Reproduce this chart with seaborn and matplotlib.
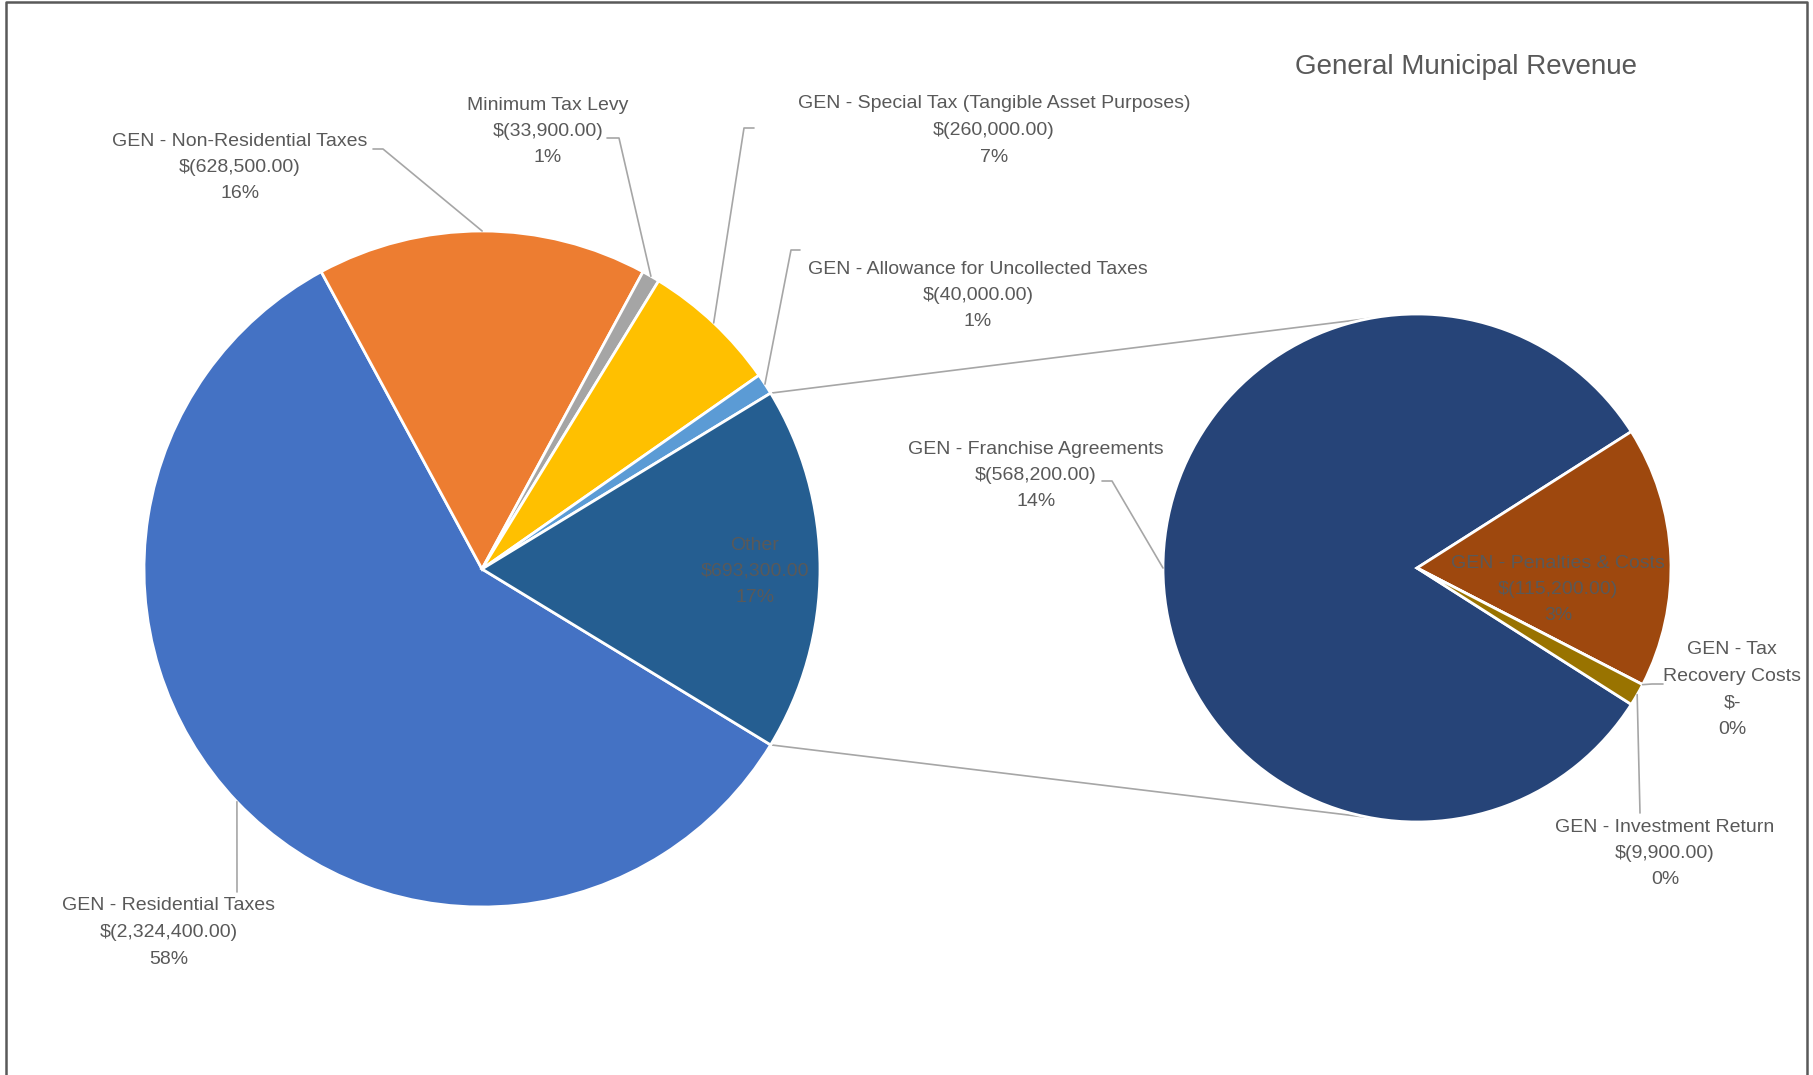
import numpy as np
import matplotlib
matplotlib.use("Agg")
import matplotlib.pyplot as plt
import seaborn as sns
from matplotlib import font_manager as fm

# ---- data -------------------------------------------------------------
title = "General Municipal Revenue"

main_labels = ["GEN - Residential Taxes", "GEN - Non-Residential Taxes", "Minimum Tax Levy",
               "GEN - Special Tax (Tangible Asset Purposes)",
               "GEN - Allowance for Uncollected Taxes", "Other"]
main_values = [2324400, 628500, 33900, 260000, 40000, 693300]
main_colors = ["#4472C4", "#ED7D31", "#A5A5A5", "#FFC000", "#5B9BD5", "#255E91"]

# breakdown of the "Other" slice
sub_labels = ["GEN - Franchise Agreements", "GEN - Penalties & Costs",
              "GEN - Tax\nRecovery Costs", "GEN - Investment Return"]
sub_values = [568200, 115200, 0, 9900]
sub_colors = ["#264478", "#9E480E", "#636363", "#997300"]

# ---- style ------------------------------------------------------------
sns.set_theme(style="white")
names = {f.name for f in fm.fontManager.ttflist}
base = "Liberation Sans Narrow" if "Liberation Sans Narrow" in names else "Liberation Sans"
plt.rcParams["font.family"] = [base, "DejaVu Sans"]

TEXT = "#595959"
LEADER = "#A6A6A6"
W, H = 1813, 1075

fig = plt.figure(figsize=(W / 100, H / 100), dpi=100)
ax = fig.add_axes([0, 0, 1, 1])


def Y(y):
    return H - y


total = float(sum(main_values))


def money(v, paren=True):
    if v == 0:
        return "$-"
    s = f"{v:,.2f}"
    return f"$({s})" if paren else f"${s}"


def pct(v):
    return f"{round(100 * v / total):.0f}%"


# ---- pies -------------------------------------------------------------
c1, r1 = (482, Y(569)), 338
c2, r2 = (1417, Y(568)), 254
wp = dict(edgecolor="white", linewidth=2.0)

other_span = 360.0 * main_values[-1] / total
w1, _ = ax.pie(main_values, colors=main_colors, startangle=-other_span / 2,
               counterclock=False, center=c1, radius=r1, wedgeprops=wp, frame=True)

sub_total = float(sum(sub_values))
w2, _ = ax.pie(sub_values, colors=sub_colors,
               startangle=180 + 180 * sub_values[0] / sub_total,
               counterclock=False, center=c2, radius=r2, wedgeprops=wp, frame=True)


def edge_point(w, center, r, frac=1.0):
    a = np.deg2rad((w.theta1 + w.theta2) / 2)
    return center[0] + frac * r * np.cos(a), center[1] + frac * r * np.sin(a)


# connector lines between the "Other" slice and the secondary pie
for sgn in (1, -1):
    a = np.deg2rad(sgn * other_span / 2)
    b = np.deg2rad(sgn * 100.5)
    ax.plot([c1[0] + r1 * np.cos(a), c2[0] + r2 * np.cos(b)],
            [c1[1] + r1 * np.sin(a), c2[1] + r2 * np.sin(b)],
            color=LEADER, lw=1.2, zorder=0)

# ---- labels -----------------------------------------------------------
STEP = 26.5
FS = 14


def draw_label(x, y_first, lines, fs=FS):
    for i, s in enumerate(lines):
        ax.text(x, Y(y_first + i * STEP), s, ha="center", va="center",
                fontsize=fs, color=TEXT)


main_pos = [(169, 906), (240, 141), (548, 105), (994, 104), (978, 269), (755, 545)]
for i, (lab, v) in enumerate(zip(main_labels, main_values)):
    paren = lab != "Other"
    draw_label(*main_pos[i], lab.split("\n") + [money(v, paren), pct(v)])

sub_pos = [(1036, 449), (1558, 563), (1732, 650), (1665, 827)]
for i, (lab, v) in enumerate(zip(sub_labels, sub_values)):
    draw_label(*sub_pos[i], lab.split("\n") + [money(v), pct(v)])

# leader lines: label-side points, ending at the slice's outer edge
main_leaders = {0: [(237, 892)], 1: [(373, 149), (383, 149)], 2: [(607, 138), (619, 138)],
                3: [(754, 128), (744, 128)], 4: [(800, 250), (791, 250)]}
for i, pts in main_leaders.items():
    ex, ey = edge_point(w1[i], c1, r1)
    xs = [p[0] for p in pts] + [ex]
    ys = [Y(p[1]) for p in pts] + [ey]
    ax.plot(xs, ys, color=LEADER, lw=1.2)

sub_leaders = {0: [(1102, 481), (1112, 481)], 2: [(1663, 684), (1652, 684)], 3: [(1640, 813)]}
for i, pts in sub_leaders.items():
    ex, ey = edge_point(w2[i], c2, r2)
    xs = [p[0] for p in pts] + [ex]
    ys = [Y(p[1]) for p in pts] + [ey]
    ax.plot(xs, ys, color=LEADER, lw=1.2)

ax.text(1466, Y(67), title, ha="center", va="center", fontsize=20, color=TEXT)

# chart frame (left, top, right)
ax.plot([6, 6, 1807, 1807], [0, Y(2), Y(2), 0], color="#595959", lw=1.8, clip_on=False)

ax.set_xlim(0, W)
ax.set_ylim(0, H)
ax.set_aspect("equal")
ax.axis("off")

fig.savefig("out.png", dpi=100, facecolor="white")
